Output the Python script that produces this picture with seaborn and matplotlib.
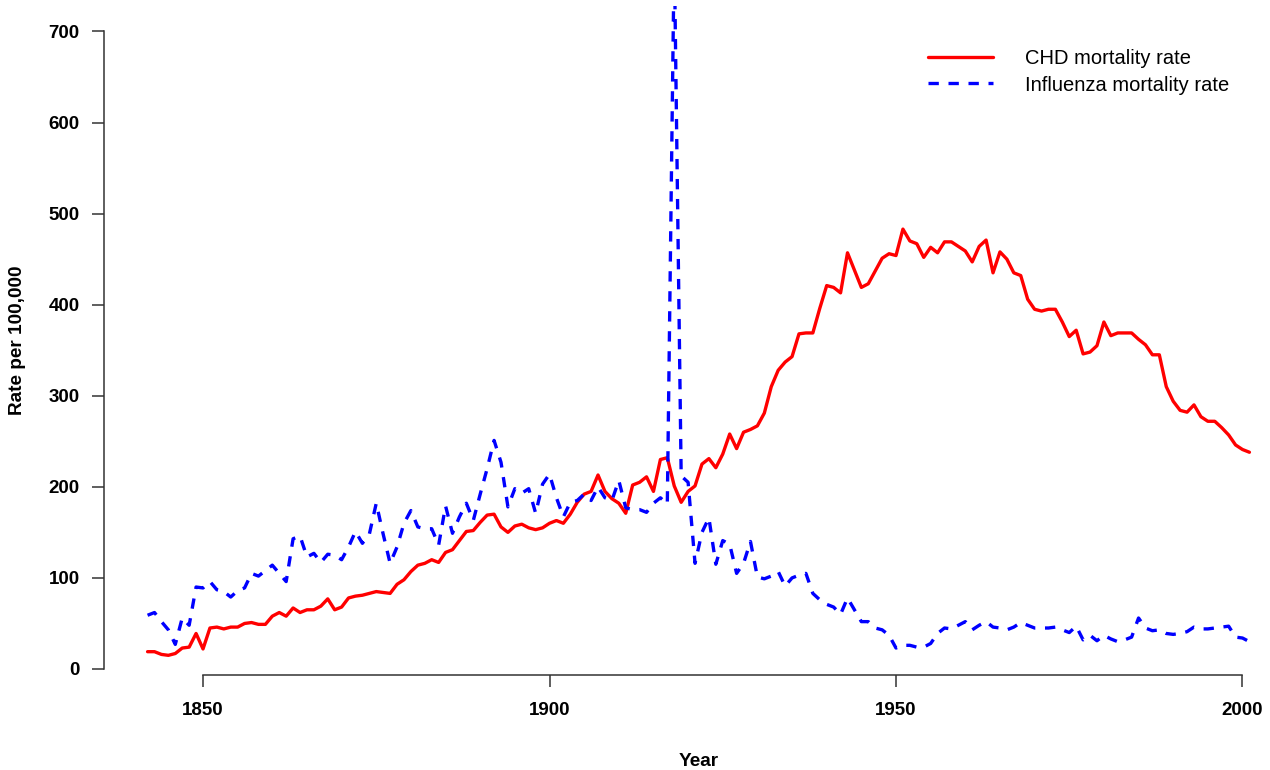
import matplotlib
matplotlib.use("Agg")
import matplotlib.pyplot as plt
import seaborn as sns
import numpy as np
import pandas as pd
from matplotlib.lines import Line2D

years = list(range(1842, 2002))

chd_rate = [
    19, 19, 16, 15, 17, 23, 24, 39, 22, 45,
    46, 44, 46, 46, 50, 51, 49, 49, 58, 62,
    58, 67, 62, 65, 65, 69, 77, 65, 68, 78,
    80, 81, 83, 85, 84, 83, 93, 98, 107, 114,
    116, 120, 117, 128, 131, 141, 151, 152, 161, 169,
    170, 156, 150, 157, 159, 155, 153, 155, 160, 163,
    160, 170, 183, 192, 195, 213, 195, 187, 182, 171,
    202, 205, 211, 195, 230, 232, 201, 183, 195, 201,
    225, 231, 221, 236, 258, 242, 260, 263, 267, 281,
    310, 328, 337, 343, 368, 369, 369, 396, 421, 419,
    413, 457, 438, 419, 423, 437, 451, 456, 454, 483,
    470, 467, 452, 463, 457, 469, 469, 464, 459, 447,
    464, 471, 435, 458, 450, 435, 432, 406, 395, 393,
    395, 395, 381, 365, 372, 346, 348, 355, 381, 366,
    369, 369, 369, 362, 356, 345, 345, 310, 294, 284,
    282, 290, 277, 272, 272, 265, 257, 246, 241, 238,
]

influenza_rate = [
    59, 62, 52, 43, 27, 56, 48, 90, 89, 96,
    87, 85, 79, 86, 89, 105, 102, 108, 114, 105,
    96, 143, 146, 123, 127, 117, 126, 125, 120, 134,
    151, 138, 148, 182, 148, 116, 134, 160, 174, 156,
    154, 154, 136, 179, 149, 167, 182, 163, 192, 220,
    251, 227, 178, 198, 193, 198, 171, 203, 214, 188,
    167, 183, 185, 192, 185, 200, 188, 185, 207, 177,
    175, 175, 172, 182, 188, 181, 790, 212, 205, 116,
    150, 166, 115, 141, 137, 105, 116, 140, 101, 99,
    102, 107, 91, 100, 103, 105, 83, 76, 71, 68,
    60, 78, 65, 52, 52, 45, 43, 37, 23, 26,
    26, 24, 24, 28, 39, 45, 44, 48, 52, 43,
    48, 52, 46, 45, 43, 46, 51, 48, 45, 45,
    45, 46, 43, 40, 47, 32, 37, 31, 37, 33,
    30, 32, 35, 56, 45, 42, 43, 39, 38, 39,
    41, 46, 44, 44, 45, 46, 47, 35, 34, 30,
]

series_labels = ["CHD mortality rate", "Influenza mortality rate"]
x_ticks = [1850, 1900, 1950, 2000]
y_ticks = [0, 100, 200, 300, 400, 500, 600, 700]

sns.set_style("white")
plt.rcParams["font.family"] = ["Liberation Sans", "DejaVu Sans"]
plt.rcParams["text.color"] = "black"
plt.rcParams["axes.labelcolor"] = "black"
plt.rcParams["xtick.color"] = "black"
plt.rcParams["ytick.color"] = "black"

W, H = 1270, 770
fig = plt.figure(figsize=(W / 100, H / 100), dpi=100)
left_px, right_px, top_px, bottom_px = 103.5, 1293.5, 6, 675
ax = fig.add_axes([left_px / W, 1 - bottom_px / H,
                   (right_px - left_px) / W, (bottom_px - top_px) / H])

df = pd.DataFrame({"Year": years, "chd": chd_rate, "flu": influenza_rate})
sns.lineplot(data=df, x="Year", y="chd", ax=ax, color="#ff0000", lw=2.4)
sns.lineplot(data=df, x="Year", y="flu", ax=ax, color="#0000ff", lw=2.4,
             linestyle=(0, (3.1, 2.9)))

ax.set_xlim(1835.64, 2007.36)
ax.set_ylim(-6.6, 728)

for s in ["top", "right"]:
    ax.spines[s].set_visible(False)
for s in ["left", "bottom"]:
    ax.spines[s].set_color("#333333")
    ax.spines[s].set_linewidth(1.1)
ax.spines["bottom"].set_bounds(1850, 2000)
ax.spines["left"].set_bounds(0, 700)

ax.set_xticks(x_ticks)
ax.set_yticks(y_ticks)
ax.set_xticklabels([str(t) for t in x_ticks], fontweight="bold", fontsize=13.5)
ax.set_yticklabels([str(t) for t in y_ticks], fontweight="bold", fontsize=13.5)
ax.tick_params(axis="x", direction="out", length=8.6, width=1.1, color="#333333",
               labelcolor="black", pad=10.5, bottom=True)
ax.tick_params(axis="y", direction="out", length=8.6, width=1.1, color="#333333",
               labelcolor="black", pad=8.5, left=True)

ax.set_xlabel("Year", fontweight="bold", fontsize=13.7)
ax.set_ylabel("Rate per 100,000", fontweight="bold", fontsize=13.7)
ax.xaxis.set_label_coords(0.5, (bottom_px - 761) / (bottom_px - top_px))
ax.xaxis.label.set_va("center")
ax.yaxis.set_label_coords((18 - left_px) / (right_px - left_px), 0.5)
ax.yaxis.label.set_va("center")

handles = [Line2D([], [], color="#ff0000", lw=2.4),
           Line2D([], [], color="#0000ff", lw=2.4, linestyle=(0, (3.1, 2.9)))]
leg = ax.legend(handles, series_labels, loc="upper left",
                bbox_to_anchor=(928 / W, 1 - 49.5 / H), bbox_transform=fig.transFigure,
                frameon=False, fontsize=14.5, handlelength=3.23, handletextpad=1.6,
                labelspacing=0.35, borderpad=0, borderaxespad=0)
for t in leg.get_texts():
    t.set_color("black")

fig.savefig("out.png", dpi=100)
